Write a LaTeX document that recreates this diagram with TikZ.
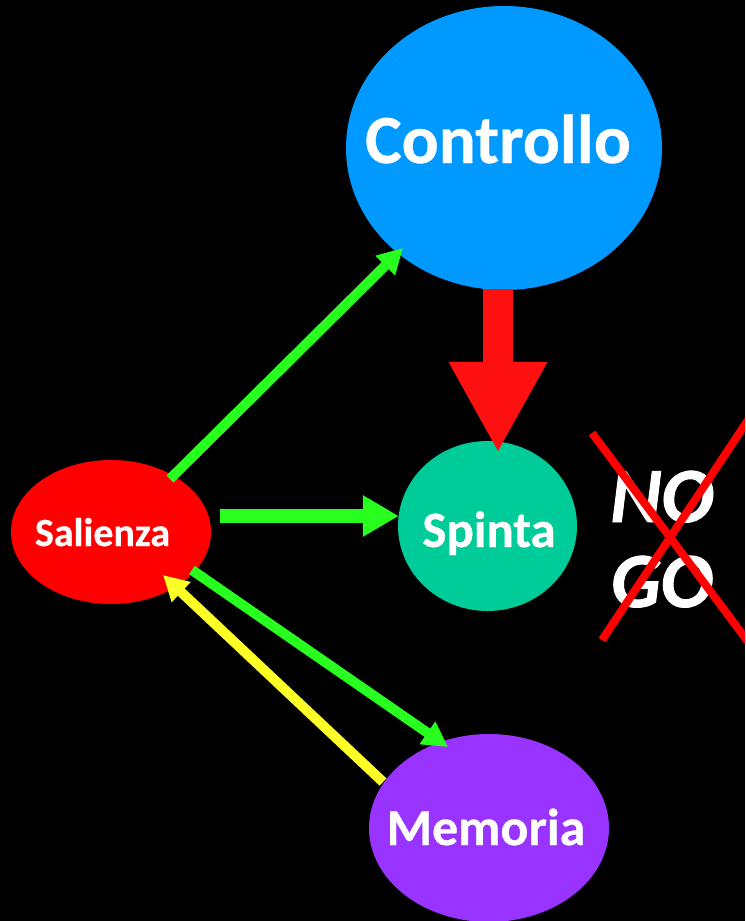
\documentclass[tikz,border=0pt]{standalone}
\usepackage{fontspec}
\setmainfont{Carlito}
\newfontfamily\heavy{Carlito Bold}[FakeBold=0.5]
\newfontfamily\heavyit{Carlito Bold Italic}[FakeBold=1.2]
\usetikzlibrary{arrows.meta,calc,shapes.geometric}
\definecolor{ctrlblue}{RGB}{0,153,255}
\definecolor{spgreen}{RGB}{0,204,153}
\definecolor{memviolet}{RGB}{153,51,255}
\definecolor{salred}{RGB}{255,0,0}
\definecolor{argreen}{RGB}{40,255,30}
\definecolor{aryellow}{RGB}{255,255,40}
\definecolor{bigred}{RGB}{255,16,16}
\begin{document}
\begin{tikzpicture}[x=1pt,y=-1pt,
  blob/.style={ellipse,inner sep=0pt,draw=none},
  lbl/.style={text=white,anchor=base,inner sep=0pt},
  thinarrow/.style={line width=10pt,-{Triangle[width=26pt,length=25pt]}},
  crossline/.style={draw=salred,line width=8pt}
]
\clip (0,0) rectangle (745,921);
\fill[black] (0,0) rectangle (745,921);

% nodes
\node[blob,fill=ctrlblue,minimum width=316pt,minimum height=284pt] (Controllo) at (504,148) {};
\node[blob,fill=spgreen,minimum width=179pt,minimum height=170pt] (Spinta) at (487.5,526) {};
\node[blob,fill=salred,minimum width=200pt,minimum height=144pt] (Salienza) at (111,532) {};
\node[blob,fill=memviolet,minimum width=240pt,minimum height=188pt] (Memoria) at (489,828) {};

% labels
\node[lbl,font=\heavy\fontsize{69}{80}\selectfont] (tControllo) at (498,163) {Controllo};
\node[lbl,font=\heavy\fontsize{51}{60}\selectfont] (tSpinta) at (489,547) {Spinta};
\node[lbl,font=\heavy\fontsize{40}{48}\selectfont] (tSalienza) at (102.5,546) {Salienza};
\node[lbl,font=\heavy\fontsize{52}{60}\selectfont] (tMemoria) at (486,845) {Memoria};
\node[lbl,font=\heavyit\fontsize{78}{85}\selectfont] (tNO) at (662,522) {NO};
\node[lbl,font=\heavyit\fontsize{78}{85}\selectfont] (tGO) at (662,607) {GO};

% connectors
\draw[bigred,line width=30pt,-{Triangle[width=92pt,length=91pt]}]
  ($(Controllo.south)+(-6,-1)$) -- ($(Spinta.north)+(10.5,12)$);
\draw[argreen,line width=14pt,-{Triangle[width=39pt,length=36pt]}]
  ($(Salienza.east)+(9,-16)$) -- ($(Spinta.west)+(1,-10)$);
\draw[argreen,thinarrow]
  ($(Salienza.center)+(59,-53)$) -- ($(Controllo.center)+(-101,100)$);
\draw[argreen,thinarrow]
  ($(Salienza.center)+(81,38)$) -- ($(Memoria.center)+(-41,-81)$);
\draw[aryellow,thinarrow]
  ($(Memoria.center)+(-106,-46)$) -- ($(Salienza.center)+(52,43)$);

% cross over NO GO
\coordinate (xa) at (592,433);
\coordinate (xb) at (752,647);
\coordinate (xc) at (602,640);
\coordinate (xd) at (752,414);
\draw[crossline] (xa) -- (xb);
\draw[crossline] (xc) -- (xd);
\end{tikzpicture}
\end{document}
